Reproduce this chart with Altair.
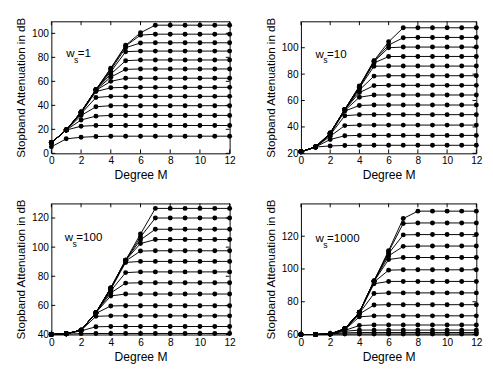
import altair as alt
import pandas as pd

FONT = "Liberation Sans"
DEGREES = list(range(13))
XTICKS = [0, 2, 4, 6, 8, 10, 12]

# ---- panel 1: w_s = 1 ----
P1_PLATEAU = [14.3, 23.2, 31.6, 39.7, 47.5, 55.0, 62.6, 70.3, 77.8, 85.2, 92.1, 99.3, 106.8]
P1_RISE = [
    [5.4, 12.1, 13.4, 14.0],
    [8.9, 19.4, 22.6],
    [8.9, 19.4, 27.8, 31.0],
    [8.9, 19.4, 31.5, 38.8],
    [8.9, 19.4, 33.0, 46.5],
    [8.9, 19.4, 33.5, 51.5, 54.6],
    [8.9, 19.4, 34.0, 52.5, 60.0],
    [8.9, 19.4, 34.0, 52.8, 63.5, 70.0],
    [8.9, 19.4, 34.3, 53.0, 66.0, 77.2],
    [8.9, 19.4, 34.3, 53.0, 68.0, 84.7],
    [8.9, 19.4, 34.5, 53.0, 69.5, 88.0, 92.0],
    [8.9, 19.4, 34.5, 53.0, 70.5, 89.5, 98.5],
    [8.9, 19.4, 34.5, 53.0, 71.0, 90.0, 100.5],
]
P1_YTICKS = [0, 20, 40, 60, 80, 100]

# ---- panel 2: w_s = 10 ----
P2_PLATEAU = [26.1, 33.6, 41.4, 49.3, 56.6, 64.2, 71.5, 78.8, 86.1, 93.4, 100.5, 107.8, 115.1]
P2_RISE = [
    [21.2, 24.8, 25.6, 26.0],
    [21.2, 24.8, 30.5, 33.3],
    [21.2, 24.8, 33.0, 41.0],
    [21.2, 24.8, 34.0, 48.5],
    [21.2, 24.8, 34.5, 52.0, 56.3],
    [21.2, 24.8, 35.0, 52.5, 62.5],
    [21.2, 24.8, 35.0, 53.0, 66.0, 71.3],
    [21.2, 24.8, 35.2, 53.0, 68.0, 78.5],
    [21.2, 24.8, 35.2, 53.0, 69.5, 86.0],
    [21.2, 24.8, 35.3, 53.2, 70.0, 88.5, 93.3],
    [21.2, 24.8, 35.3, 53.2, 70.5, 89.5, 100.0],
    [21.2, 24.8, 35.4, 53.2, 70.7, 90.0, 102.0, 107.6],
    [21.2, 24.8, 35.4, 53.2, 71.0, 90.2, 104.5],
]
P2_YTICKS = [20, 40, 60, 80, 100]

# ---- panel 3: w_s = 100 ----
P3_PLATEAU = [40.7, 45.5, 52.8, 59.8, 67.8, 75.5, 83.0, 90.2, 97.5, 105.2, 112.3, 120.0, 126.6]
P3_RISE = [
    [40.0, 40.3, 40.6],
    [40.0, 40.5, 42.5, 45.3],
    [40.0, 40.5, 42.8, 52.5],
    [40.0, 40.5, 43.0, 54.5, 59.6],
    [40.0, 40.5, 43.0, 55.0, 66.5],
    [40.0, 40.5, 43.0, 55.0, 68.5, 75.3],
    [40.0, 40.5, 43.0, 55.0, 70.0, 82.5],
    [40.0, 40.5, 43.0, 55.0, 71.0, 89.5],
    [40.0, 40.5, 43.0, 55.0, 71.5, 90.5, 97.3],
    [40.0, 40.5, 43.0, 55.0, 71.5, 91.0, 102.5],
    [40.0, 40.5, 43.0, 55.0, 72.0, 91.0, 105.0],
    [40.0, 40.5, 43.0, 55.0, 72.0, 91.0, 107.0],
    [40.0, 40.5, 43.0, 55.0, 72.0, 91.0, 109.0],
]
P3_YTICKS = [40, 60, 80, 100, 120]

# ---- panel 4: w_s = 1000 ----
P4_PLATEAU = [60.3, 61.2, 62.7, 65.8, 71.4, 78.2, 85.4, 92.4, 99.5, 107.0, 114.0, 121.0, 128.1, 135.3]
P4_RISE = [
    [60.0, 60.0, 60.2],
    [60.0, 60.0, 60.3, 61.0],
    [60.0, 60.0, 60.3, 62.0],
    [60.0, 60.0, 60.3, 62.5, 65.5],
    [60.0, 60.0, 60.3, 63.0, 70.8],
    [60.0, 60.0, 60.3, 63.0, 72.5, 78.0],
    [60.0, 60.0, 60.3, 63.2, 73.0, 85.0],
    [60.0, 60.0, 60.3, 63.3, 73.3, 91.0],
    [60.0, 60.0, 60.3, 63.5, 73.5, 92.0, 99.3],
    [60.0, 60.0, 60.3, 63.5, 73.6, 92.5, 105.8],
    [60.0, 60.0, 60.3, 63.5, 73.6, 92.5, 108.0, 113.8],
    [60.0, 60.0, 60.3, 63.5, 73.6, 92.7, 109.5, 120.8],
    [60.0, 60.0, 60.3, 63.5, 73.6, 92.7, 110.5, 127.8],
    [60.0, 60.0, 60.3, 63.5, 73.6, 92.7, 111.2, 130.8],
]
P4_YTICKS = [60, 80, 100, 120]


def build_df(rises, plateaus):
    rows = []
    for i, (r, p) in enumerate(zip(rises, plateaus)):
        vals = r + [p] * (len(DEGREES) - len(r))
        for m, v in zip(DEGREES, vals):
            rows.append({"M": m, "A": v, "s": i})
    return pd.DataFrame(rows)


def panel(df, domain, yticks, W, H, label, tx, ty):
    xsc = alt.Scale(domain=[0, 12], nice=False, zero=False)
    ysc = alt.Scale(domain=domain, nice=False, zero=False)
    x = alt.X("M:Q", scale=xsc, axis=alt.Axis(values=XTICKS, title="Degree M"))
    y = alt.Y("A:Q", scale=ysc,
              axis=alt.Axis(values=yticks, title="Stopband Attenuation in dB"))
    base = alt.Chart(df)
    lines = base.mark_line(color="black", strokeWidth=1).encode(x=x, y=y, detail="s:N")
    pts = base.mark_circle(color="black", size=26, opacity=1).encode(x=x, y=y, detail="s:N")
    xt = alt.Chart(pd.DataFrame({"M": XTICKS}))
    yt = alt.Chart(pd.DataFrame({"A": yticks}))
    tick_top = xt.mark_rule(color="black", strokeWidth=1).encode(x=x, y=alt.value(0), y2=alt.value(4))
    tick_bot = xt.mark_rule(color="black", strokeWidth=1).encode(x=x, y=alt.value(H), y2=alt.value(H - 4))
    tick_l = yt.mark_rule(color="black", strokeWidth=1).encode(y=y, x=alt.value(0), x2=alt.value(4))
    tick_r = yt.mark_rule(color="black", strokeWidth=1).encode(y=y, x=alt.value(W), x2=alt.value(W - 4))
    ann = alt.Chart(pd.DataFrame({"M": [tx], "A": [ty]}))
    t_w = ann.mark_text(text="w", align="left", baseline="alphabetic", fontSize=12,
                        font=FONT, color="black").encode(x=x, y=y)
    t_s = ann.mark_text(text="s", align="left", baseline="alphabetic", fontSize=9,
                        font=FONT, color="black", dx=8, dy=6).encode(x=x, y=y)
    t_eq = ann.mark_text(text=label, align="left", baseline="alphabetic", fontSize=12,
                         font=FONT, color="black", dx=12).encode(x=x, y=y)
    return alt.layer(lines, pts, tick_top, tick_bot, tick_l, tick_r, t_w, t_s, t_eq).properties(
        width=W, height=H)


p1 = panel(build_df(P1_RISE, P1_PLATEAU), [0, 110], P1_YTICKS, 185, 137, "=1", 1.0, 80.5)
p2 = panel(build_df(P2_RISE, P2_PLATEAU), [20, 120], P2_YTICKS, 182, 137, "=10", 1.0, 92.5)
p3 = panel(build_df(P3_RISE, P3_PLATEAU), [40, 130], P3_YTICKS, 185, 136, "=100", 0.9, 104.3)
p4 = panel(build_df(P4_RISE, P4_PLATEAU), [60, 140], P4_YTICKS, 182, 136, "=1000", 1.0, 116.5)

chart = alt.vconcat(
    alt.hconcat(p1, p2, spacing=28),
    alt.hconcat(p3, p4, spacing=28),
    spacing=16,
).properties(
    padding={"left": 6, "top": 1, "right": 2, "bottom": 0}
).configure_view(
    stroke="black", strokeWidth=1
).configure_axis(
    labelFont=FONT, titleFont=FONT, labelFontSize=10.5, titleFontSize=12,
    labelColor="black", titleColor="black", titleFontWeight="normal",
    tickSize=0, domain=False, grid=False, labelFlush=False, labelOverlap=False,
    labelPadding=3, titlePadding=4,
).configure_axisX(titleFontSize=12.5, titlePadding=3)

chart.save("out.html", embed_options={"renderer": "svg", "actions": False})
